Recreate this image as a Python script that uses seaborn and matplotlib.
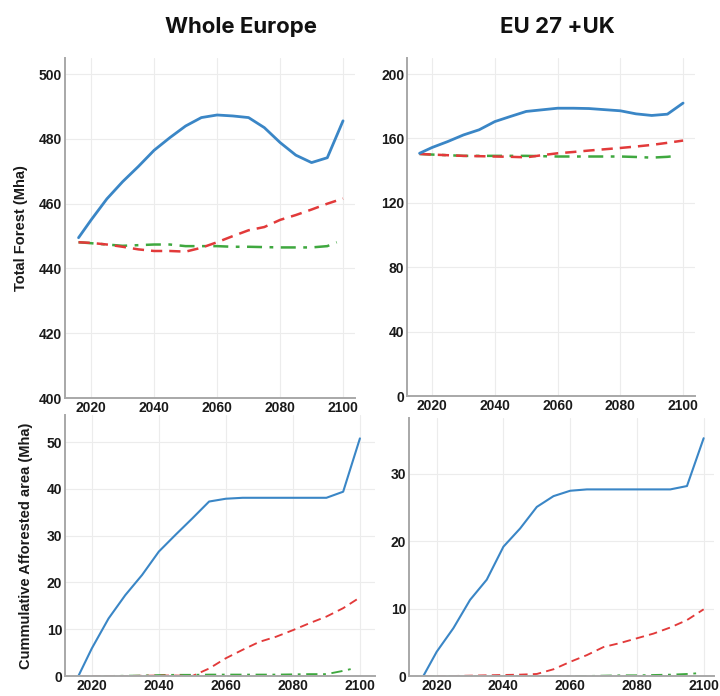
import matplotlib
matplotlib.use("Agg")
import matplotlib.pyplot as plt
import seaborn as sns
import pandas as pd

# ---- data -------------------------------------------------------------
years = [2016, 2020, 2025, 2030, 2035, 2040, 2045, 2050, 2055, 2060,
         2065, 2070, 2075, 2080, 2085, 2090, 2095, 2100]
years_green = [2016, 2020, 2025, 2030, 2035, 2040, 2045, 2050, 2055, 2060,
               2065, 2070, 2075, 2080, 2085, 2090, 2095, 2098]

# Total forest, whole Europe (Mha)
eu_all_forest_blue = [449.5, 455.0, 461.5, 466.8, 471.5, 476.5, 480.4, 484.0, 486.6,
                      487.4, 487.1, 486.6, 483.5, 478.9, 475.0, 472.7, 474.2, 485.6]
eu_all_forest_red = [448.1, 447.9, 447.4, 446.7, 445.9, 445.4, 445.4, 445.2, 446.4,
                     448.1, 450.0, 451.8, 452.8, 455.0, 456.5, 458.2, 460.0, 461.6]
eu_all_forest_green = [448.1, 447.8, 447.4, 447.0, 447.2, 447.4, 447.4, 446.9, 446.9,
                       446.9, 446.7, 446.7, 446.6, 446.5, 446.5, 446.5, 446.9, 448.1]

# Total forest, EU 27 + UK (Mha)
eu27_forest_blue = [150.8, 154.4, 158.1, 162.2, 165.4, 170.5, 173.7, 176.8, 177.8,
                    178.8, 178.8, 178.6, 177.9, 177.2, 175.3, 174.3, 175.1, 182.0]
eu27_forest_red = [150.4, 150.0, 149.6, 149.2, 149.0, 148.8, 148.6, 148.3, 149.6,
                   150.8, 151.6, 152.5, 153.3, 154.1, 155.0, 156.0, 157.3, 158.7]
eu27_forest_green = [150.4, 150.0, 149.6, 149.2, 149.2, 149.2, 149.2, 149.2, 149.0,
                     148.8, 148.8, 148.8, 148.8, 148.8, 148.5, 148.1, 148.6, 149.2]

# Cumulative afforested area, whole Europe (Mha)
eu_all_aff_blue = [0.0, 5.9, 12.3, 17.3, 21.6, 26.6, 30.2, 33.7, 37.3,
                   37.9, 38.1, 38.1, 38.1, 38.1, 38.1, 38.1, 39.4, 50.8]
eu_all_aff_red = [0.0, 0.0, 0.0, 0.0, 0.05, 0.1, 0.1, 0.0, 1.6,
                  3.8, 5.6, 7.3, 8.4, 9.8, 11.3, 12.7, 14.5, 16.8]
eu_all_aff_green = [0.0, 0.0, 0.0, 0.05, 0.1, 0.2, 0.25, 0.25, 0.3,
                    0.3, 0.3, 0.3, 0.3, 0.35, 0.4, 0.4, 1.1, 1.6]

# Cumulative afforested area, EU 27 + UK (Mha)
eu27_aff_blue = [0.0, 3.6, 7.1, 11.3, 14.3, 19.2, 21.9, 25.1, 26.7,
                 27.5, 27.7, 27.7, 27.7, 27.7, 27.7, 27.7, 28.2, 35.3]
eu27_aff_red = [0.0, 0.0, 0.0, 0.05, 0.1, 0.15, 0.2, 0.3, 1.0,
                2.1, 3.1, 4.3, 4.9, 5.6, 6.3, 7.2, 8.3, 9.9]
eu27_aff_green = [0.0, 0.0, 0.0, 0.0, 0.0, 0.0, 0.0, 0.0, 0.0,
                  0.0, 0.0, 0.05, 0.1, 0.1, 0.15, 0.2, 0.3, 0.4]

titles = ["Whole Europe", "EU 27 +UK"]
ylabel_top = "Total Forest (Mha)"
ylabel_bottom = "Cummulative Afforested area (Mha)"
xticks = [2020, 2040, 2060, 2080, 2100]

# ---- style ------------------------------------------------------------
sns.set_theme(style="whitegrid")
plt.rcParams["font.family"] = ["Liberation Sans", "DejaVu Sans"]

BLUE = "#3a86c6"
RED = "#e23a3a"
GREEN = "#3fa83f"

W, H = 720, 696
fig = plt.figure(figsize=(W / 100, H / 100), dpi=100)


def px_rect(left, right, top, bottom):
    return [left / W, 1 - bottom / H, (right - left) / W, (bottom - top) / H]


def draw(ax, blue, red, green, lw, xlim, ylim, yticks):
    df_b = pd.DataFrame({"year": years, "value": blue})
    df_r = pd.DataFrame({"year": years, "value": red})
    df_g = pd.DataFrame({"year": years_green, "value": green})
    sns.lineplot(data=df_g, x="year", y="value", ax=ax, color=GREEN, lw=lw * 0.9,
                 linestyle=(0, (6, 3, 1.5, 3)))
    sns.lineplot(data=df_r, x="year", y="value", ax=ax, color=RED, lw=lw * 0.9,
                 linestyle=(0, (4.5, 2.8)))
    sns.lineplot(data=df_b, x="year", y="value", ax=ax, color=BLUE, lw=lw)
    ax.set_xlim(*xlim)
    ax.set_ylim(*ylim)
    ax.set_xticks(xticks)
    ax.set_yticks(yticks)
    ax.set_xlabel("")
    ax.set_ylabel("")
    ax.grid(True, color="#ececec", lw=0.8)
    for s in ["top", "right"]:
        ax.spines[s].set_visible(False)
    for s in ["left", "bottom"]:
        ax.spines[s].set_visible(True)
        ax.spines[s].set_color("#a8a8a8")
        ax.spines[s].set_linewidth(1.4)
    ax.tick_params(length=0, pad=2, labelsize=10, labelcolor="#1a1a1a")
    for lab in ax.get_xticklabels() + ax.get_yticklabels():
        lab.set_fontweight("bold")
    ax.set_facecolor("white")


ax1 = fig.add_axes(px_rect(65, 355, 58, 398))
draw(ax1, eu_all_forest_blue, eu_all_forest_red, eu_all_forest_green, 2.0,
     (2011.7, 2103.8), (400, 505), [400, 420, 440, 460, 480, 500])
ax1.set_ylabel(ylabel_top, fontsize=10.5, fontweight="bold", color="#1a1a1a", labelpad=8)

ax2 = fig.add_axes(px_rect(407, 695, 58, 396))
draw(ax2, eu27_forest_blue, eu27_forest_red, eu27_forest_green, 2.0,
     (2012.0, 2103.8), (0, 210), [0, 40, 80, 120, 160, 200])

ax3 = fig.add_axes(px_rect(65, 375, 415, 676))
draw(ax3, eu_all_aff_blue, eu_all_aff_red, eu_all_aff_green, 1.5,
     (2012.0, 2104.5), (0, 55.8), [0, 10, 20, 30, 40, 50])
ax3.set_ylabel(ylabel_bottom, fontsize=10.5, fontweight="bold", color="#1a1a1a", labelpad=10)

ax4 = fig.add_axes(px_rect(409, 714, 418, 676))
draw(ax4, eu27_aff_blue, eu27_aff_red, eu27_aff_green, 1.5,
     (2011.7, 2103.1), (0, 38.3), [0, 10, 20, 30])

fig.text(241 / W, 1 - 27 / H, titles[0], ha="center", va="center",
         fontsize=16, fontweight="bold", color="#111111", family=["Inter", "DejaVu Sans"])
fig.text(557 / W, 1 - 27 / H, titles[1], ha="center", va="center",
         fontsize=16, fontweight="bold", color="#111111", family=["Inter", "DejaVu Sans"])

fig.savefig("out.png", dpi=100, facecolor="white")
